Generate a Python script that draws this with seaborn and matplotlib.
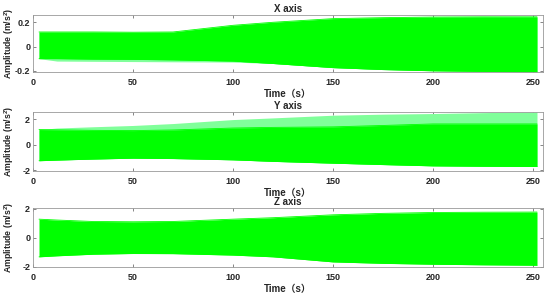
import numpy as np
import pandas as pd
import matplotlib
matplotlib.use("Agg")
import matplotlib.pyplot as plt
import seaborn as sns

# envelope sample times (s)
t = [3, 12, 30, 50, 70, 100, 120, 150, 175, 200, 225, 252]

# X axis envelope (m/s^2)
x_upper = [0.12, 0.12, 0.12, 0.118, 0.12, 0.175, 0.20, 0.23, 0.238, 0.243, 0.245, 0.245]
x_lower = [-0.10, -0.10, -0.104, -0.106, -0.11, -0.12, -0.14, -0.174, -0.19, -0.20, -0.205, -0.21]
x_spike = [-0.10, -0.12, -0.122, -0.124, -0.126, -0.128, -0.14, -0.174, -0.19, -0.20, -0.205, -0.21]

# Y axis envelope
y_upper = [1.18, 1.16, 1.12, 1.10, 1.15, 1.30, 1.35, 1.39, 1.50, 1.62, 1.62, 1.62]
y_spike = [1.18, 1.30, 1.40, 1.50, 1.65, 1.96, 2.09, 2.30, 2.38, 2.43, 2.50, 2.56]
y_lower = [-1.25, -1.2, -1.12, -1.05, -1.08, -1.18, -1.30, -1.44, -1.55, -1.65, -1.68, -1.70]

# Z axis envelope
z_upper = [1.28, 1.22, 1.12, 1.10, 1.12, 1.28, 1.38, 1.58, 1.68, 1.74, 1.76, 1.77]
z_lower = [-1.32, -1.25, -1.14, -1.09, -1.10, -1.20, -1.32, -1.67, -1.77, -1.83, -1.87, -1.90]

titles = ["X axis", "Y axis", "Z axis"]
ylims = [(-0.21, 0.26), (-2.05, 2.55), (-2.02, 2.05)]
yticks = [[-0.2, 0, 0.2], [-2, 0, 2], [-2, 0, 2]]
yticklabels = [["-0.2", "0", "0.2"], ["-2", "0", "2"], ["-2", "0", "2"]]
xticks = [0, 50, 100, 150, 200, 250]

sns.set_theme(style="white")
plt.rcParams['font.family'] = ['Liberation Sans', 'Noto Sans CJK SC', 'DejaVu Sans']
plt.rcParams['font.weight'] = 'bold'
plt.rcParams['mathtext.fontset'] = 'custom'
plt.rcParams['mathtext.bf'] = 'Liberation Sans:bold'
plt.rcParams['mathtext.rm'] = 'Liberation Sans:bold'

fig = plt.figure(figsize=(5.5, 2.94), dpi=100)
W, H = 550, 294
boxes = [(15, 72), (112, 171), (208, 267)]
green = "#00ff00"
light = "#80ff9a"

data = [
    (x_upper, x_lower, None, x_spike),
    (y_upper, y_lower, y_spike, None),
    (z_upper, z_lower, None, None),
]

for i, (top, bot) in enumerate(boxes):
    ax = fig.add_axes([33 / W, 1 - bot / H, (543 - 33) / W, (bot - top) / H])
    up, lo, spk_up, spk_lo = data[i]
    df = pd.DataFrame({"t": t, "up": up, "lo": lo})
    if spk_up is not None:
        ax.fill_between(t, lo, spk_up, color=light, lw=0)
    if spk_lo is not None:
        ax.fill_between(t, spk_lo, up, color=light, lw=0)
    ax.fill_between(df["t"], df["lo"], df["up"], color=green, lw=0)
    sns.lineplot(data=df, x="t", y="up", ax=ax, color=green, lw=0.6)
    sns.lineplot(data=df, x="t", y="lo", ax=ax, color=green, lw=0.6)
    ax.set_xlim(0, 255)
    ax.set_ylim(*ylims[i])
    ax.set_xticks(xticks)
    ax.set_xticklabels([str(v) for v in xticks], fontsize=6.5, fontweight='bold')
    ax.set_yticks(yticks[i])
    ax.set_yticklabels(yticklabels[i], fontsize=6.5, fontweight='bold')
    ax.tick_params(direction='in', length=2.5, width=0.5, color='#555555',
                   top=True, right=True, bottom=True, left=True)
    ax.tick_params(axis='x', pad=4)
    ax.tick_params(axis='y', pad=2)
    for s in ax.spines.values():
        s.set_color('#999999')
        s.set_linewidth(0.6)
    ax.set_title(titles[i], fontsize=7, fontweight='bold', pad=2)
    ax.set_xlabel("Time（s）", fontsize=7, fontweight='bold', labelpad=2)
    ax.set_ylabel("Amplitude (m/s$^{2}$)", fontsize=6.3, fontweight='bold')
    ax.yaxis.set_label_coords(-0.034, 0.5)

fig.savefig("out.png", dpi=100)
